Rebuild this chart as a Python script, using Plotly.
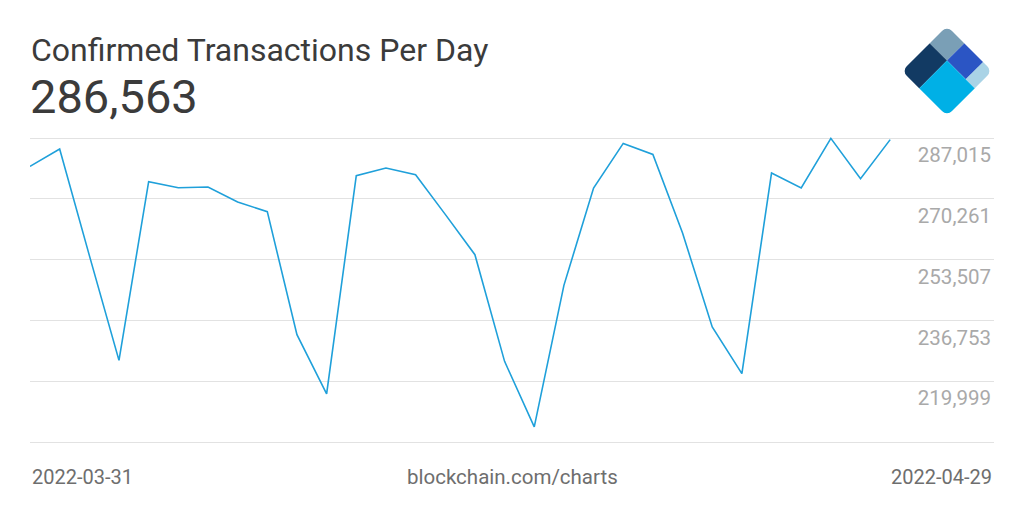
import base64
import plotly.graph_objects as go

# ---- data ----
dates = [
    "2022-03-31", "2022-04-01", "2022-04-02", "2022-04-03", "2022-04-04",
    "2022-04-05", "2022-04-06", "2022-04-07", "2022-04-08", "2022-04-09",
    "2022-04-10", "2022-04-11", "2022-04-12", "2022-04-13", "2022-04-14",
    "2022-04-15", "2022-04-16", "2022-04-17", "2022-04-18", "2022-04-19",
    "2022-04-20", "2022-04-21", "2022-04-22", "2022-04-23", "2022-04-24",
    "2022-04-25", "2022-04-26", "2022-04-27", "2022-04-28", "2022-04-29",
]
transactions = [
    279191, 283985, 254671, 225744, 274976,
    273323, 273515, 269383, 266711, 232824,
    216487, 276629, 278750, 276904, 265967,
    254864, 225468, 207395, 246406, 273240,
    285527, 282497, 260842, 234945, 222080,
    277372, 273240, 286905, 275802, 286563,
]
ytick_values = [203245, 219999, 236753, 253507, 270261, 287015]
ytick_labels = ["", "219,999", "236,753", "253,507", "270,261", "287,015"]
title_text = "Confirmed Transactions Per Day"
source_text = "blockchain.com/charts"

# ---- layout geometry (pixels) ----
W, H = 1024, 512
GRID_TOP, GRID_BOT = 138.3, 442.3          # pixel rows of top / bottom gridlines
PAD_TOP, PAD_BOT = 16, 2                    # extra pixels of plot area beyond gridlines
ML, MR = 30, 30
MT = round(GRID_TOP - PAD_TOP)
MB = round(H - GRID_BOT - PAD_BOT)
plot_w = W - ML - MR
plot_h = H - MT - MB
units_per_px = (ytick_values[-1] - ytick_values[0]) / (GRID_BOT - GRID_TOP)


def px_x(px):
    return (px - ML) / plot_w


def px_y(py):
    return (H - MB - py) / plot_h


fig = go.Figure()
fig.add_trace(go.Scatter(
    x=dates, y=transactions, mode="lines",
    line=dict(color="#1fa0da", width=1.6),
    hoverinfo="skip", showlegend=False,
))

fig.update_layout(
    width=W, height=H,
    margin=dict(l=ML, r=MR, t=MT, b=MB, pad=0),
    paper_bgcolor="white", plot_bgcolor="white",
    font=dict(family="Roboto", color="#3a3a3a"),
    hovermode=False,
    xaxis=dict(
        type="date",
        range=["2022-03-31", "2022-05-02 12:00"],
        showgrid=False, showticklabels=False, zeroline=False,
        showline=False, ticks="", fixedrange=True,
    ),
    yaxis=dict(
        range=[ytick_values[0] - PAD_BOT * units_per_px,
               ytick_values[-1] + PAD_TOP * units_per_px],
        side="right",
        tickmode="array", tickvals=ytick_values, ticktext=ytick_labels,
        ticklabelposition="inside", ticklabelshift=17,
        tickfont=dict(family="Roboto", size=20.5, color="#a9a9a9"),
        showgrid=True, gridcolor="#e2e2e2", gridwidth=1,
        zeroline=False, showline=False, ticks="", fixedrange=True,
    ),
)

annotations = [
    dict(text=title_text, x=px_x(29), y=px_y(50), xref="paper", yref="paper",
         xanchor="left", yanchor="middle", showarrow=False,
         font=dict(family="Roboto", size=32, color="#3b3b3b")),
    dict(text=f"{transactions[-1]:,}", x=px_x(28), y=px_y(97), xref="paper", yref="paper",
         xanchor="left", yanchor="middle", showarrow=False,
         font=dict(family="Roboto", size=47, color="#3b3b3b")),
    dict(text=dates[0], x=0, y=px_y(477), xref="paper", yref="paper",
         xanchor="left", yanchor="middle", showarrow=False,
         font=dict(family="Roboto", size=20, color="#6e6e6e")),
    dict(text=source_text, x=0.5, y=px_y(477), xref="paper", yref="paper",
         xanchor="center", yanchor="middle", showarrow=False,
         font=dict(family="Roboto", size=20.5, color="#6e6e6e")),
    dict(text=dates[-1], x=1, y=px_y(477), xref="paper", yref="paper",
         xanchor="right", yanchor="middle", showarrow=False,
         font=dict(family="Roboto", size=20, color="#6e6e6e")),
]
fig.update_layout(annotations=annotations)

# ---- logo ----
svg = (
    "<svg xmlns='http://www.w3.org/2000/svg' width='100' height='100' viewBox='0 0 100 100'>"
    "<defs><clipPath id='c'><rect x='18' y='18' width='64' height='64' rx='7' ry='7'/></clipPath></defs>"
    "<g transform='rotate(45 50 50)'><g clip-path='url(#c)'>"
    "<rect x='18' y='18' width='24.6' height='24.6' fill='#7a9fb6'/>"
    "<rect x='42.6' y='18' width='26.6' height='24.6' fill='#2b55c4'/>"
    "<rect x='69.2' y='18' width='12.8' height='24.6' fill='#a9d3e6'/>"
    "<rect x='18' y='42.6' width='24.6' height='39.4' fill='#123a63'/>"
    "<rect x='42.6' y='42.6' width='39.4' height='39.4' fill='#00b0e6'/>"
    "</g></g></svg>"
)
src = "data:image/svg+xml;base64," + base64.b64encode(svg.encode()).decode()
fig.add_layout_image(dict(
    source=src, xref="paper", yref="paper",
    x=px_x(897), y=px_y(21), sizex=100 / plot_w, sizey=100 / plot_h,
    xanchor="left", yanchor="top", sizing="stretch", layer="above",
))

fig.write_html(
    "out.html",
    config={"displayModeBar": False},
    post_script="document.body.style.margin='0';",
)
